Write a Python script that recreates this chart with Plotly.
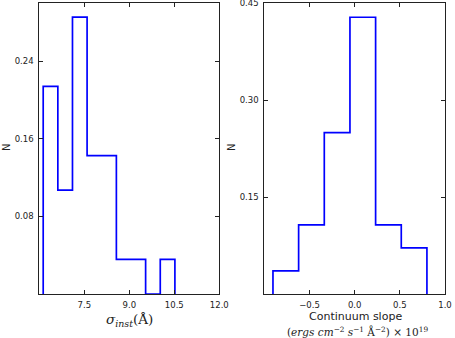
import plotly.graph_objects as go

# ---- data ----
sigma_edges = [6.13, 6.618, 7.106, 7.593, 8.081, 8.569, 9.057, 9.544, 10.032, 10.52]
sigma_frac = [6/28, 3/28, 8/28, 4/28, 4/28, 1/28, 1/28, 0/28, 1/28]

slope_edges = [-0.904, -0.620, -0.336, -0.052, 0.232, 0.516, 0.800]
slope_frac = [1/28, 3/28, 7/28, 12/28, 3/28, 2/28]

left_xticks = [7.5, 9.0, 10.5, 12.0]
left_yticks = [0.08, 0.16, 0.24]
right_xticks = [-0.5, 0.0, 0.5, 1.0]
right_yticks = [0.15, 0.30, 0.45]


def step_xy(edges, vals):
    xs, ys = [edges[0]], [0]
    for i, v in enumerate(vals):
        xs += [edges[i], edges[i + 1]]
        ys += [v, v]
    xs.append(edges[-1])
    ys.append(0)
    return xs, ys


W, H = 455, 338
fig = go.Figure()
lx, ly = step_xy(sigma_edges, sigma_frac)
rx, ry = step_xy(slope_edges, slope_frac)
line = dict(color="#0000ff", width=1.7)
fig.add_trace(go.Scatter(x=lx, y=ly, mode="lines", line=line, xaxis="x", yaxis="y", showlegend=False))
fig.add_trace(go.Scatter(x=rx, y=ry, mode="lines", line=line, xaxis="x2", yaxis="y2", showlegend=False))

tickfont = dict(family="DejaVu Sans", size=8.5, color="#222")
common = dict(showgrid=False, zeroline=False, showline=True, linecolor="#222", linewidth=1,
              mirror="ticks", ticks="inside", ticklen=4, tickcolor="#222", tickwidth=1,
              tickfont=tickfont, automargin=False, ticklabeloverflow="allow")

ydom = [(H - 294) / H, (H - 3.3) / H]
fig.update_layout(
    width=W, height=H, margin=dict(l=0, r=0, t=0, b=0, autoexpand=False),
    paper_bgcolor="white", plot_bgcolor="white",
    xaxis=dict(domain=[39.3 / W, 219.3 / W], range=[6.0, 12.0], tickvals=left_xticks,
               ticktext=["7.5", "9.0", "10.5", "12.0"], anchor="y", ticklabelstandoff=3, **common),
    yaxis=dict(domain=ydom, range=[0, 0.30], tickvals=left_yticks,
               ticktext=["0.08", "0.16", "0.24"], anchor="x", ticklabelstandoff=3, **common),
    xaxis2=dict(domain=[264.3 / W, 445 / W], range=[-1.0, 1.0], tickvals=right_xticks,
                ticktext=["\u22120.5", "0.0", "0.5", "1.0"], anchor="y2", ticklabelstandoff=3, **common),
    yaxis2=dict(domain=ydom, range=[0, 0.4502], tickvals=right_yticks,
                ticktext=["0.15", "0.30", "0.45"], anchor="x2", ticklabelstandoff=3, **common),
)

def note(text, x, y, size, family="DejaVu Sans", angle=0):
    return dict(text=text, x=x / W, y=(H - y) / H, xref="paper", yref="paper",
                xanchor="center", yanchor="middle", textangle=angle, showarrow=False,
                font=dict(family=family, size=size, color="#222"))

ann = [
    note("N", 6, 148, 10, angle=-90),
    note("N", 231, 148, 10, angle=-90),
    note("<i>σ</i><sub><i>inst</i></sub>(Å)", 129, 320, 13.5, family="DejaVu Serif"),
    note("Continuum slope", 355, 316, 11),
    note("(<i>ergs cm</i><sup>\u22122</sup> <i>s</i><sup>\u22121</sup> Å<sup>\u22122</sup>) × 10<sup>19</sup>",
         357, 331, 10.5, family="DejaVu Serif"),
]
fig.update_layout(annotations=ann)

fig.write_html("out.html")
